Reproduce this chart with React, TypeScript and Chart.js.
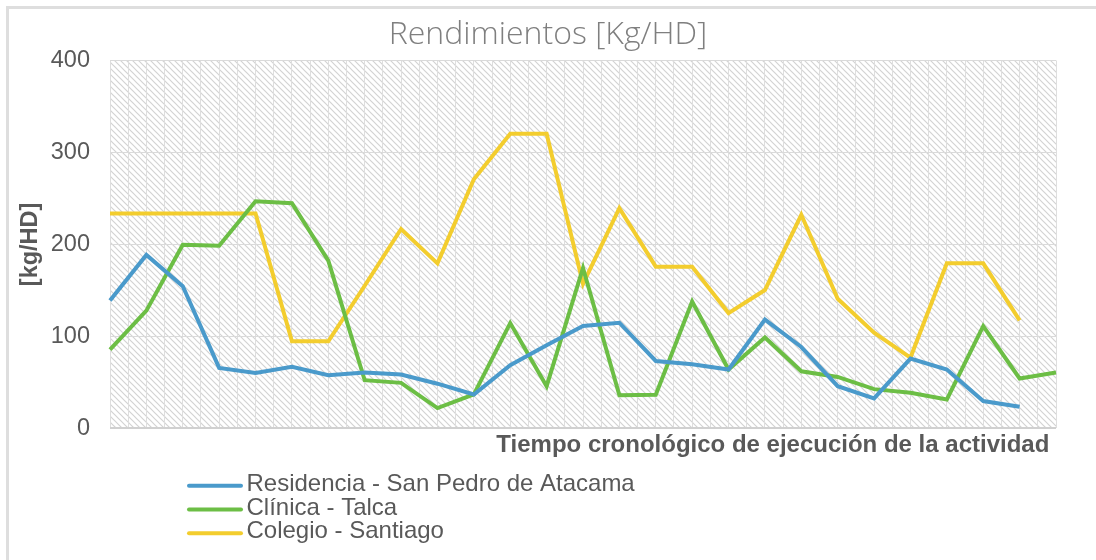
import React, { useEffect, useRef } from "react";
import { Chart, registerables } from "chart.js";

Chart.register(...registerables);

const categories = [
  "1", "2", "3", "4", "5", "6", "7", "8", "9", "10", "11", "12", "13", "14",
  "15", "16", "17", "18", "19", "20", "21", "22", "23", "24", "25", "26", "27",
];

const residencia = [
  139, 188.5, 154.5, 65.7, 60.2, 66.8, 57.7, 60.7, 58.5, 48.5, 36.8, 68.6, 90.2,
  111.2, 114.8, 73.2, 69.7, 63.9, 118.2, 88.4, 45.8, 32.5, 75.8, 63.9, 29.6, 23.4, null,
];

const clinica = [
  85.6, 128, 199.7, 198.6, 247, 244.8, 182.3, 52.3, 49.4, 22, 36.8, 114.4, 45.8,
  174.4, 36, 36.5, 137.9, 63.9, 98.7, 62, 55.9, 42.6, 38.6, 31.4, 111.2, 54.2, 60.7,
];

const colegio = [
  233.6, 233.6, 233.6, 233.6, 233.6, 94.6, 94.6, 155, 216.7, 179.4, 270.9, 320.3,
  320.3, 157, 239.4, 175.8, 175.8, 125.3, 150.4, 232.2, 140.8, 104, 76.9, 179.4,
  179.4, 117.3, null,
];

const seriesLabels = [
  "Residencia - San Pedro de Atacama",
  "Clínica - Talca",
  "Colegio - Santiago",
];
const seriesColors = ["#4A9ACB", "#6CBE45", "#F3CD2E"];

const yTicks = [0, 100, 200, 300, 400];
const chartTitle = "Rendimientos [Kg/HD]";
const xTitle = "Tiempo cronológico de ejecución de la actividad ";
const yTitle = "[kg/HD]";

const SANS = '"Liberation Sans", Arial, Helvetica, sans-serif';
const TEXT = "#595959";

const hatchPlugin = {
  id: "hatch",
  beforeDraw(chart: any) {
    const { ctx, chartArea: a } = chart;
    const tile = document.createElement("canvas");
    tile.width = 6;
    tile.height = 6;
    const t = tile.getContext("2d")!;
    t.strokeStyle = "#d3d3d3";
    t.lineWidth = 1.2;
    t.beginPath();
    t.moveTo(-1, -1);
    t.lineTo(7, 7);
    t.moveTo(-1, 5);
    t.lineTo(1, 7);
    t.moveTo(5, -1);
    t.lineTo(7, 1);
    t.stroke();
    const pattern = ctx.createPattern(tile, "repeat");
    ctx.save();
    ctx.fillStyle = "#ffffff";
    ctx.fillRect(a.left, a.top, a.right - a.left, a.bottom - a.top);
    ctx.fillStyle = pattern;
    ctx.fillRect(a.left, a.top, a.right - a.left, a.bottom - a.top);
    ctx.restore();
  },
};

const legendPlugin = {
  id: "vlegend",
  afterDraw(chart: any) {
    const { ctx, chartArea } = chart;
    const baseY = chartArea.bottom + 57.4;
    ctx.save();
    ctx.font = `24px ${SANS}`;
    ctx.textBaseline = "middle";
    ctx.textAlign = "left";
    chart.data.datasets.forEach((ds: any, i: number) => {
      const y = baseY + i * 23.8;
      ctx.strokeStyle = ds.borderColor;
      ctx.lineWidth = 4;
      ctx.lineCap = "round";
      ctx.beginPath();
      ctx.moveTo(189, y);
      ctx.lineTo(241, y);
      ctx.stroke();
      ctx.fillStyle = TEXT;
      ctx.fillText(ds.label, 246.5, y - 1.5);
    });
    ctx.restore();
  },
};

export default function App() {
  const ref = useRef<HTMLCanvasElement>(null);

  useEffect(() => {
    if (!ref.current) return;
    const series = [residencia, clinica, colegio];
    const chart = new Chart(ref.current, {
      type: "line",
      data: {
        labels: categories,
        datasets: series.map((d, i) => ({
          label: seriesLabels[i],
          data: d,
          borderColor: seriesColors[i],
          backgroundColor: seriesColors[i],
          borderWidth: 4,
          pointRadius: 0,
          pointHoverRadius: 0,
          tension: 0,
          fill: false,
          xAxisID: "x",
          yAxisID: "y",
        })),
      },
      options: {
        responsive: false,
        animation: false,
        events: [],
        layout: { padding: { left: 0, right: 0, top: 16, bottom: 100.6 } },
        plugins: {
          legend: { display: false },
          tooltip: { enabled: false },
          title: {
            display: true,
            text: chartTitle,
            color: "#7f7f7f",
            font: { family: '"Open Sans", sans-serif', size: 32, weight: 300 as any },
            padding: { top: 0, bottom: 6.1 },
          },
        },
        scales: {
          x: {
            type: "category",
            offset: false,
            position: "bottom",
            grid: { display: false, drawTicks: false },
            border: { display: false },
            ticks: { display: false },
            title: {
              display: true,
              text: xTitle,
              align: "end",
              color: TEXT,
              font: { family: SANS, size: 24, weight: "bold" },
              padding: { top: 2.3, bottom: 0 },
            },
          },
          xg: {
            type: "linear",
            position: "bottom",
            min: 0,
            max: 26,
            ticks: { display: false, stepSize: 0.5 },
            grid: { color: "#dedede", lineWidth: 1, drawTicks: false },
            border: { display: false },
          },
          y: {
            type: "linear",
            position: "left",
            min: 0,
            max: 400,
            afterBuildTicks: (s: any) => {
              s.ticks = yTicks.map((v) => ({ value: v }));
            },
            ticks: {
              stepSize: 100,
              padding: 20,
              color: TEXT,
              font: { family: SANS, size: 23.5 },
            },
            grid: {
              color: (c: any) => (c.tick && c.tick.value === 0 ? "#d0d0d0" : "#dadada"),
              lineWidth: (c: any) => (c.tick && c.tick.value === 0 ? 2 : 1),
              drawTicks: false,
            },
            border: { display: false },
            title: {
              display: true,
              text: yTitle,
              color: TEXT,
              font: { family: SANS, size: 23.5, weight: "bold" },
              padding: { top: 16, bottom: 0 },
            },
            afterFit: (s: any) => {
              s.width = 110;
            },
          },
          yr: {
            type: "linear",
            position: "right",
            display: true,
            ticks: { display: false },
            grid: { display: false, drawTicks: false },
            border: { display: false },
            afterFit: (s: any) => {
              s.width = 40;
            },
          },
        },
      } as any,
      plugins: [hatchPlugin, legendPlugin],
    });
    return () => chart.destroy();
  }, []);

  return (
    <div
      style={{
        position: "fixed",
        left: 0,
        top: 0,
        width: 1096,
        height: 560,
        overflow: "hidden",
        background: "#ffffff",
      }}
    >
      <div
        style={{
          position: "absolute",
          left: 6,
          top: 6,
          width: 1300,
          height: 900,
          border: "3px solid #dedede",
          boxSizing: "border-box",
        }}
      />
      <canvas
        ref={ref}
        width={1096}
        height={560}
        style={{ position: "absolute", left: 0, top: 0, width: 1096, height: 560 }}
      />
    </div>
  );
}
